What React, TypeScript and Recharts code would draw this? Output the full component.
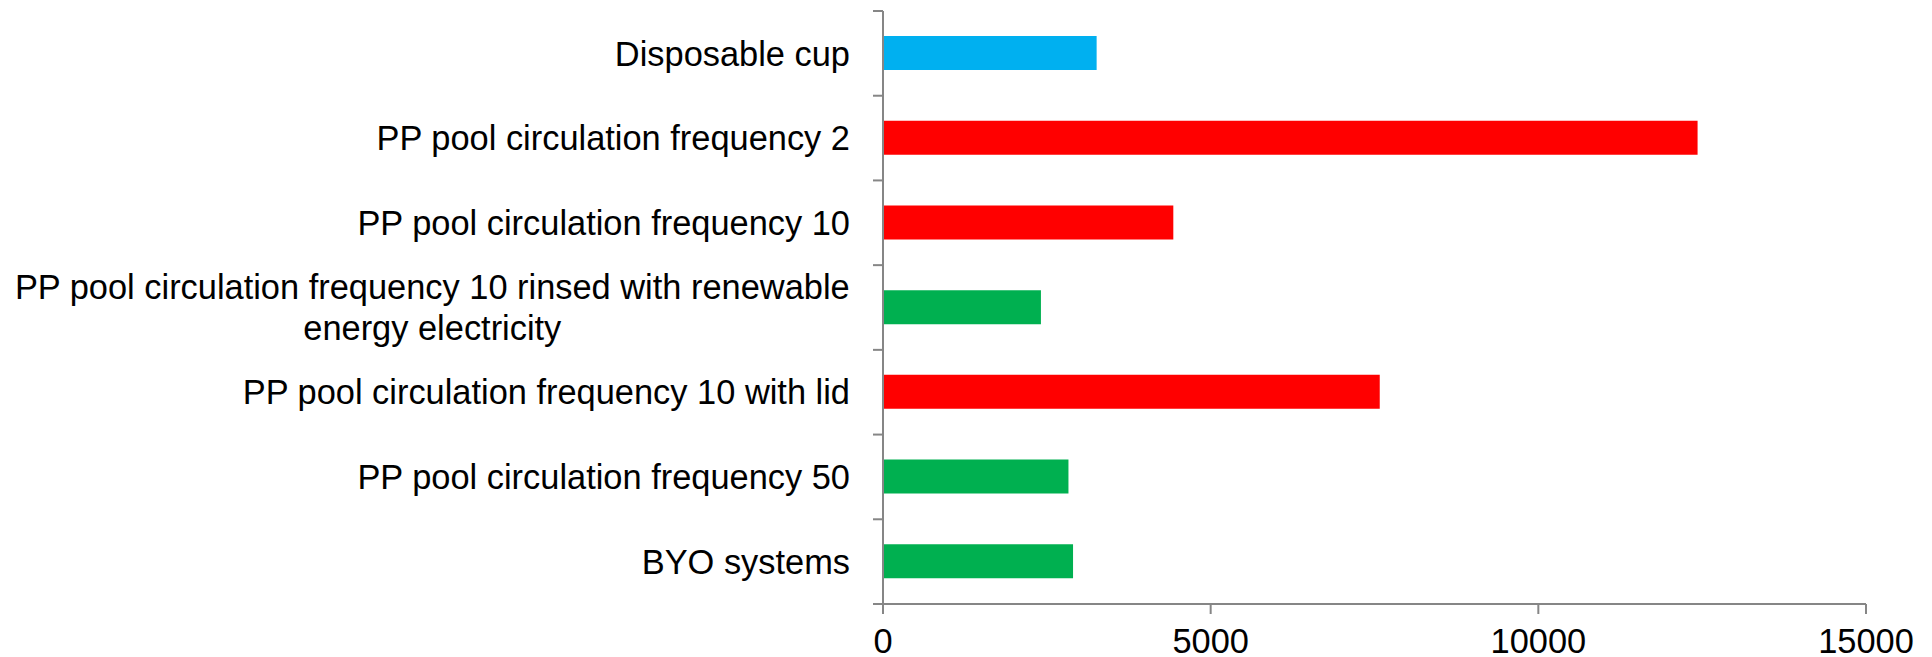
import { Bar, BarChart, Cell, XAxis, YAxis } from "recharts";

const categories = [
  "Disposable cup",
  "PP pool circulation frequency 2",
  "PP pool circulation frequency 10",
  "PP pool circulation frequency 10 rinsed with renewable\nenergy electricity",
  "PP pool circulation frequency 10 with lid",
  "PP pool circulation frequency 50",
  "BYO systems"
];
const values = [3260, 12430, 4430, 2410, 7580, 2830, 2900];
const barColors = ["#00B0F0", "#FF0000", "#FF0000", "#00B050", "#FF0000", "#00B050", "#00B050"];
const xTicks = [0, 5000, 10000, 15000];

const data = categories.map((name, i) => ({ name, value: values[i] }));

const FONT = "'Liberation Sans', Arial, sans-serif";
const FONT_SIZE = 34.4;
const AXIS_COLOR = "#868686";
const CHART_H = 657;
const TOP = 11;
const X_AXIS_H = 53;
const BAND = (CHART_H - TOP - X_AXIS_H) / categories.length;

let ctx: CanvasRenderingContext2D | null = null;
function textWidth(s: string) {
  if (!ctx) ctx = document.createElement("canvas").getContext("2d");
  if (!ctx) return s.length * FONT_SIZE * 0.5;
  ctx.font = `${FONT_SIZE}px ${FONT}`;
  return ctx.measureText(s).width;
}

function CategoryTick(props: any) {
  const { x, y, payload, index } = props;
  const axisX = x + 33;
  const lines: string[] = String(payload.value).split("\n");
  const lineH = 40.5;
  const maxW = Math.max(...lines.map(textWidth));
  const multi = lines.length > 1;
  return (
    <g>
      <line x1={axisX - 10} x2={axisX} y1={y - BAND / 2} y2={y - BAND / 2} stroke={AXIS_COLOR} strokeWidth={2} />
      {index === categories.length - 1 && (
        <line x1={axisX - 10} x2={axisX} y1={y + BAND / 2} y2={y + BAND / 2} stroke={AXIS_COLOR} strokeWidth={2} />
      )}
      {lines.map((ln, i) => (
        <text
          key={i}
          x={multi ? x - maxW / 2 : x}
          y={y + (i - (lines.length - 1) / 2) * lineH}
          dy="0.355em"
          textAnchor={multi ? "middle" : "end"}
          fontFamily={FONT}
          fontSize={FONT_SIZE}
          fill="#000"
        >
          {ln}
        </text>
      ))}
    </g>
  );
}

export default function App() {
  return (
    <div style={{ position: "absolute", left: 0, top: 0, background: "#fff" }}>
      <BarChart
        width={1932}
        height={CHART_H}
        data={data}
        layout="vertical"
        margin={{ top: TOP, right: 66, bottom: 0, left: 0 }}
      >
        <XAxis
          type="number"
          domain={[0, 15000]}
          ticks={xTicks}
          interval={0}
          height={X_AXIS_H}
          stroke={AXIS_COLOR}
          strokeWidth={2}
          tickSize={10}
          tickMargin={15}
          tick={{ fill: "#000", fontFamily: FONT, fontSize: FONT_SIZE }}
        />
        <YAxis
          type="category"
          dataKey="name"
          width={883}
          interval={0}
          stroke={AXIS_COLOR}
          strokeWidth={2}
          tickLine={false}
          tickSize={10}
          tickMargin={23}
          tick={<CategoryTick />}
        />
        <Bar dataKey="value" barSize={34} isAnimationActive={false}>
          {data.map((d, i) => (
            <Cell key={d.name} fill={barColors[i]} />
          ))}
        </Bar>
      </BarChart>
    </div>
  );
}
